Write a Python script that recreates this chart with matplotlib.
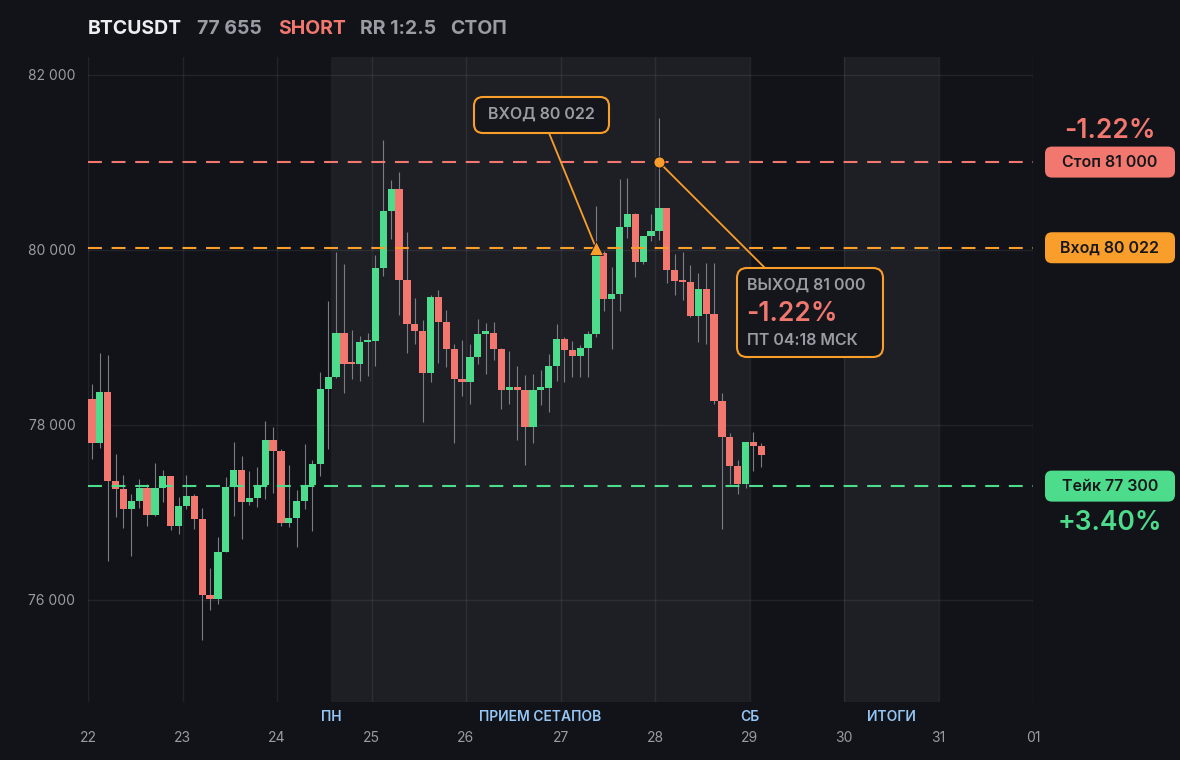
import matplotlib
matplotlib.use('Agg')
import matplotlib.pyplot as plt
from matplotlib.patches import FancyBboxPatch
import numpy as np

# ---------------- data ----------------
opens = [78300, 77791, 78380, 77359, 77268, 77040, 77127, 77283, 76972, 77283,
         77412, 76846, 77070, 77184, 76926, 76061, 76015, 76543, 77290, 77480,
         77120, 77161, 77309, 77822, 77700, 76880, 76934, 77127, 77309, 77548,
         78411, 78551, 79053, 78700, 78692, 78940, 78960, 79795, 80445, 80696,
         79658, 79148, 79076, 78597, 79464, 79179, 78871, 78521, 78487, 78780,
         79042, 79053, 78871, 78396, 78437, 78396, 77974, 78403, 78426, 78673,
         78983, 78857, 78784, 78872, 79040, 79958, 79438, 79491, 80260, 80405,
         79862, 80157, 80210, 80478, 79771, 79644, 79630, 79243, 79556, 79270,
         78268, 77866, 77534, 77327, 77801, 77755]
highs = [78471, 78820, 78801, 77670, 77423, 77214, 77378, 77321, 77560, 77480,
         77420, 77176, 77423, 77214, 77048, 76368, 76717, 77404, 77799, 77640,
         77469, 77514, 78038, 77973, 77727, 77537, 77252, 77776, 77594, 78600,
         79418, 79977, 79837, 79088, 79019, 79050, 79943, 81251, 80798, 80890,
         80205, 79452, 79202, 79480, 79544, 79316, 78924, 78973, 78924, 79209,
         79160, 79179, 78882, 78848, 78677, 78574, 78582, 78631, 78814, 79147,
         79000, 78956, 78906, 79071, 80501, 79990, 79805, 80811, 80822, 80420,
         80157, 80405, 81507, 80478, 79950, 79969, 79824, 79728, 79843, 79843,
         78367, 77904, 77598, 77801, 77920, 77797]
lows = [77609, 77734, 76448, 76949, 76824, 76505, 77055, 76846, 76960, 77120,
        76797, 76759, 77036, 76812, 75545, 75886, 75955, 76543, 76956, 76698,
        77082, 77063, 77150, 77222, 76846, 76835, 76607, 77036, 76789, 77412,
        77719, 78540, 78361, 78521, 78498, 78563, 78669, 79696, 80118, 79255,
        78818, 78924, 78030, 78487, 78704, 78658, 77791, 78327, 78240, 78696,
        78582, 78745, 78183, 78240, 77829, 77544, 77791, 78221, 78145, 78498,
        78486, 78544, 78543, 78551, 79002, 79300, 78868, 79300, 80130, 79690,
        79836, 80103, 80111, 79614, 79480, 79423, 79231, 78945, 78925, 78237,
        76811, 77319, 77205, 77281, 77472, 77522]
closes = [77791, 78380, 77359, 77268, 77040, 77127, 77283, 76972, 77283, 77412,
          76846, 77070, 77184, 76926, 76061, 76015, 76543, 77290, 77480, 77120,
          77161, 77309, 77822, 77700, 76880, 76934, 77127, 77309, 77548, 78411,
          78551, 79053, 78700, 78692, 78947, 78960, 79795, 80445, 80696, 79658,
          79148, 79076, 78597, 79464, 79179, 78871, 78521, 78487, 78780, 79042,
          79053, 78871, 78396, 78437, 78396, 77974, 78403, 78426, 78673, 78983,
          78857, 78784, 78872, 79040, 79958, 79438, 79491, 80260, 80405, 79862,
          80157, 80210, 80478, 79771, 79644, 79630, 79243, 79556, 79270, 78268,
          77866, 77534, 77327, 77801, 77755, 77655]

start_day = 22
candles_per_day = 12

symbol = "BTCUSDT"
last_price_label = "77 655"
side_label = "SHORT"
rr_label = "RR 1:2.5"
result_label = "СТОП"

stop_price = 81000
entry_price = 80022
take_price = 77300
exit_price = 81000
entry_idx = 64
exit_idx = 72
stop_pct = "-1.22%"
take_pct = "+3.40%"
exit_time = "ПТ 04:18 МСК"

day_ticks = list(range(22, 33))
day_labels = ['22', '23', '24', '25', '26', '27', '28', '29', '30', '31', '01']
y_ticks = [76000, 78000, 80000, 82000]
y_labels = ['76 000', '78 000', '80 000', '82 000']
session_labels = ['ПН', 'ПРИЕМ СЕТАПОВ', 'СБ', 'ИТОГИ']
session_pos = [24.57, 26.785, 29.0, 30.5]
shade_spans = [(24.57, 29.0), (30.0, 31.0)]

# ---------------- style ----------------
BG = '#121318'
SHADE = '#1e1f24'
GREEN = '#4ddc8c'
RED = '#f2786f'
ORANGE = '#f99e2a'
GRAY = '#9a9ca3'
WHITE = '#eceef2'
BLUE = '#93c5f5'
WICK = '#7a7d84'

plt.rcParams['font.family'] = ['Inter', 'DejaVu Sans']
plt.rcParams['lines.scale_dashes'] = False

fig = plt.figure(figsize=(11.8, 7.6), dpi=100, facecolor=BG)
ax = fig.add_axes([88 / 1180, 58 / 760, 945 / 1180, 645 / 760])
ax.set_facecolor(BG)
ax.set_xlim(22, 32)
ax.set_ylim(74835, 82200)
for s in ax.spines.values():
    s.set_visible(False)

for a, b in shade_spans:
    ax.axvspan(a, b, color=SHADE, zorder=0, lw=0)

ax.set_xticks(day_ticks)
ax.set_xticklabels(day_labels)
ax.set_yticks(y_ticks)
ax.set_yticklabels(y_labels)
ax.tick_params(axis='x', length=0, pad=21, labelsize=10, labelcolor=GRAY)
ax.tick_params(axis='y', length=0, pad=9, labelsize=10, labelcolor=GRAY)
ax.grid(True, color='white', alpha=0.07, lw=1)
ax.set_axisbelow(True)

o = np.array(opens, float)
h = np.array(highs, float)
l = np.array(lows, float)
c = np.array(closes, float)
n = len(o)
xs = start_day + (np.arange(n) + 0.5) / candles_per_day
up = c >= o
cols = np.where(up, GREEN, RED)
ax.vlines(xs, l, h, color=WICK, lw=0.8, zorder=2)
bottoms = np.minimum(o, c)
heights = np.maximum(np.abs(c - o), 25)
ax.bar(xs, heights, bottom=bottoms, width=0.078, color=cols, zorder=3, lw=0)

# level lines
ax.axhline(stop_price, color=RED, lw=1.5, dashes=(10, 7), zorder=4)
ax.axhline(entry_price, color=ORANGE, lw=1.5, dashes=(10, 7), zorder=4)
ax.axhline(take_price, color=GREEN, lw=1.5, dashes=(10, 7), zorder=4)

# session labels
for lab, xp in zip(session_labels, session_pos):
    ax.text(xp, -15 / 645, lab, transform=ax.get_xaxis_transform(), ha='center',
            va='center', color=BLUE, fontsize=10, fontweight='semibold')

# title
title_items = [(symbol, WHITE, 88), (last_price_label, GRAY, 197), (side_label, RED, 278),
               (rr_label, GRAY, 360), (result_label, GRAY, 450)]
for txt, col, px in title_items:
    fig.text(px / 1180, 1 - 29 / 760, txt, color=col, fontsize=14, fontweight='bold',
             ha='left', va='center')

INCH = fig.dpi_scale_trans

def data_px(x, y):
    return ax.transData.transform((x, y))

x_entry = start_day + (entry_idx + 0.5) / candles_per_day
x_exit = start_day + (exit_idx + 0.5) / candles_per_day

# entry callout
box = FancyBboxPatch((474 / 100, (760 - 133) / 100), 135 / 100, 36 / 100,
                     boxstyle='round,pad=0,rounding_size=0.09', transform=INCH,
                     facecolor='#15161b', edgecolor=ORANGE, lw=1.5, zorder=10)
fig.patches.append(box)
fig.text(541 / 100, (760 - 114) / 100, "ВХОД 80 022", transform=INCH, ha='center',
         va='center', color=GRAY, fontsize=11.5, fontweight='semibold', zorder=11)
ax.annotate('', xy=(x_entry, entry_price), xycoords='data',
            xytext=(549 / 100, (760 - 133) / 100), textcoords=INCH,
            arrowprops=dict(arrowstyle='-', color=ORANGE, lw=1.3, shrinkA=0, shrinkB=0),
            zorder=6)
ax.plot([x_entry], [entry_price], marker='^', markersize=10, color=ORANGE,
        markeredgecolor=BG, markeredgewidth=0.6, zorder=7, clip_on=False)

# exit callout
box2 = FancyBboxPatch((737 / 100, (760 - 357) / 100), 146 / 100, 89 / 100,
                      boxstyle='round,pad=0,rounding_size=0.1', transform=INCH,
                      facecolor='#15161b', edgecolor=ORANGE, lw=1.5, zorder=10)
fig.patches.append(box2)
fig.text(747 / 100, (760 - 285) / 100, "ВЫХОД 81 000", transform=INCH, ha='left',
         va='center', color=GRAY, fontsize=11.5, fontweight='semibold', zorder=11)
fig.text(746 / 100, (760 - 314) / 100, stop_pct, transform=INCH, ha='left',
         va='center', color=RED, fontsize=19, fontweight='semibold', zorder=11)
fig.text(747 / 100, (760 - 341) / 100, exit_time, transform=INCH, ha='left',
         va='center', color=GRAY, fontsize=11.5, fontweight='semibold', zorder=11)
ax.annotate('', xy=(x_exit, exit_price), xycoords='data',
            xytext=(765 / 100, (760 - 268) / 100), textcoords=INCH,
            arrowprops=dict(arrowstyle='-', color=ORANGE, lw=1.3, shrinkA=0, shrinkB=0),
            zorder=6)
ax.plot([x_exit], [exit_price], marker='o', markersize=8, color=ORANGE,
        markeredgecolor=BG, markeredgewidth=0.6, zorder=7, clip_on=False)

# right-side badges
badges = [("Стоп 81 000", stop_price, RED), ("Вход 80 022", entry_price, ORANGE),
          ("Тейк 77 300", take_price, GREEN)]
for txt, price, col in badges:
    _, py = data_px(32, price)
    yc = py / 100
    p = FancyBboxPatch((1045 / 100, yc - 0.155), 1.30, 0.31,
                       boxstyle='round,pad=0,rounding_size=0.07', transform=INCH,
                       facecolor=col, edgecolor='none', zorder=10)
    fig.patches.append(p)
    fig.text(11.10, yc, txt, transform=INCH, ha='center', va='center',
             color='#16171b', fontsize=11.5, fontweight='semibold', zorder=11)

_, py_stop = data_px(32, stop_price)
_, py_take = data_px(32, take_price)
fig.text(11.10, py_stop / 100 + 0.31, stop_pct, transform=INCH, ha='center',
         va='center', color=RED, fontsize=19, fontweight='semibold')
fig.text(11.10, py_take / 100 - 0.37, take_pct, transform=INCH, ha='center',
         va='center', color=GREEN, fontsize=19, fontweight='semibold')

fig.savefig('out.png', dpi=100, facecolor=BG)
